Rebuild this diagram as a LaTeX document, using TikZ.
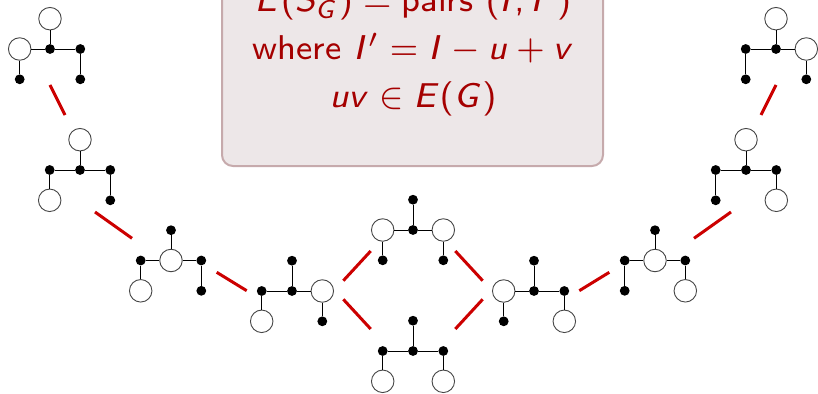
\documentclass[tikz,border=0pt]{standalone}
\usepackage{graphicx}
\DeclareSymbolFont{sfop}{OT1}{cmss}{m}{n}
\DeclareSymbolFont{sfit}{OT1}{cmss}{m}{sl}
\DeclareMathSymbol{E}{\mathalpha}{sfit}{`E}
\DeclareMathSymbol{S}{\mathalpha}{sfit}{`S}
\DeclareMathSymbol{G}{\mathalpha}{sfit}{`G}
\DeclareMathSymbol{I}{\mathalpha}{sfit}{`I}
\DeclareMathSymbol{u}{\mathalpha}{sfit}{`u}
\DeclareMathSymbol{v}{\mathalpha}{sfit}{`v}
\DeclareMathSymbol{=}{\mathrel}{sfop}{`=}
\DeclareMathSymbol{+}{\mathbin}{sfop}{`+}
\DeclareMathSymbol{(}{\mathopen}{sfop}{`(}
\DeclareMathSymbol{)}{\mathclose}{sfop}{`)}
\DeclareMathSymbol{,}{\mathpunct}{sfop}{`,}
\definecolor{linkred}{RGB}{204,0,0}
\definecolor{txtred}{RGB}{165,0,0}
\definecolor{boxfill}{RGB}{237,231,232}
\definecolor{boxline}{RGB}{198,170,172}
\definecolor{tokline}{RGB}{70,70,70}
\tikzset{
  dotv/.style={circle,fill=black,inner sep=0pt,minimum size=9.8pt},
  tokv/.style={circle,draw=tokline,fill=white,line width=0.9pt,inner sep=0pt,minimum size=22.5pt},
  tedge/.style={draw=black,line width=0.9pt},
  link/.style={draw=linkred,line width=3pt},
  infobox/.style={draw=boxline,fill=boxfill,line width=2pt,rounded corners=11pt,inner sep=0pt},
  infotext/.style={text=txtred,inner sep=0pt,anchor=base,font=\sffamily\fontsize{8}{10}\selectfont},
}
\newcommand\gtree[8]{% #1 name, #2 center, #3 T, #4 L, #5 C, #6 R, #7 BL, #8 BR
  \begin{scope}[shift={#2}]
    \node[#3] (#1T) at (0,-30.3) {};
    \node[#4] (#1L) at (-30.3,0) {};
    \node[#5] (#1C) at (0,0) {};
    \node[#6] (#1R) at (30.3,0) {};
    \node[#7] (#1BL) at (-30.3,30.3) {};
    \node[#8] (#1BR) at (30.3,30.3) {};
    \path[tedge] (#1T)--(#1C) (#1L)--(#1C) (#1C)--(#1R) (#1L)--(#1BL) (#1R)--(#1BR);
  \end{scope}}
\begin{document}
\begin{tikzpicture}[x=1pt,y=-1pt]
\useasboundingbox (0,0) rectangle (818,393);
\clip (0,0) rectangle (818,393);
% info box
\node[infobox,minimum width=381pt,minimum height=240pt,anchor=south] (box) at (412.5,167) {};
\node[infotext] (line1) at (413,12) {\scalebox{4.3}{$E(S_G) = \mbox{pairs } (I, I')$}};
\node[infotext] (line2) at (413,59.3) {\scalebox{4.3}{where $I' = I - u + v$}};
\node[infotext] (line3) at (413,107) {\scalebox{4.3}{$uv \in E(G)$}};
% graphs
\gtree{a}{(50,49)}{tokv}{tokv}{dotv}{dotv}{dotv}{dotv}
\gtree{b}{(80,170)}{tokv}{dotv}{dotv}{dotv}{tokv}{dotv}
\gtree{c}{(171,260.5)}{dotv}{dotv}{tokv}{dotv}{tokv}{dotv}
\gtree{d}{(292,291)}{dotv}{dotv}{dotv}{tokv}{tokv}{dotv}
\gtree{e}{(413,230)}{dotv}{tokv}{dotv}{tokv}{dotv}{dotv}
\gtree{f}{(413,351)}{dotv}{dotv}{dotv}{dotv}{tokv}{tokv}
\gtree{g}{(534,291)}{dotv}{tokv}{dotv}{dotv}{dotv}{tokv}
\gtree{h}{(655,260.5)}{dotv}{dotv}{tokv}{dotv}{dotv}{tokv}
\gtree{i}{(746,170)}{tokv}{dotv}{dotv}{dotv}{dotv}{tokv}
\gtree{j}{(776,49)}{tokv}{dotv}{dotv}{tokv}{dotv}{dotv}
% link end points
\coordinate (ab1) at (50,85);     \coordinate (ab2) at (65,115);
\coordinate (bc1) at (95,212);    \coordinate (bc2) at (132,238.3);
\coordinate (cd1) at (216.7,272.3); \coordinate (cd2) at (246.7,290.7);
\coordinate (de1) at (343.3,280.7); \coordinate (de2) at (370.7,251);
\coordinate (df1) at (343.3,299.3); \coordinate (df2) at (370.7,329);
\coordinate (eg1) at (455.3,251); \coordinate (eg2) at (482.7,280.7);
\coordinate (fg1) at (455.3,329); \coordinate (fg2) at (482.7,299.3);
\coordinate (gh1) at (579.3,290.7); \coordinate (gh2) at (609.3,272.3);
\coordinate (hi1) at (694,238.3); \coordinate (hi2) at (731,212);
\coordinate (ij1) at (761,115);   \coordinate (ij2) at (776,85);
\draw[link] (ab1)--(ab2) (bc1)--(bc2) (cd1)--(cd2) (de1)--(de2) (df1)--(df2)
            (eg1)--(eg2) (fg1)--(fg2) (gh1)--(gh2) (hi1)--(hi2) (ij1)--(ij2);
\end{tikzpicture}
\end{document}
